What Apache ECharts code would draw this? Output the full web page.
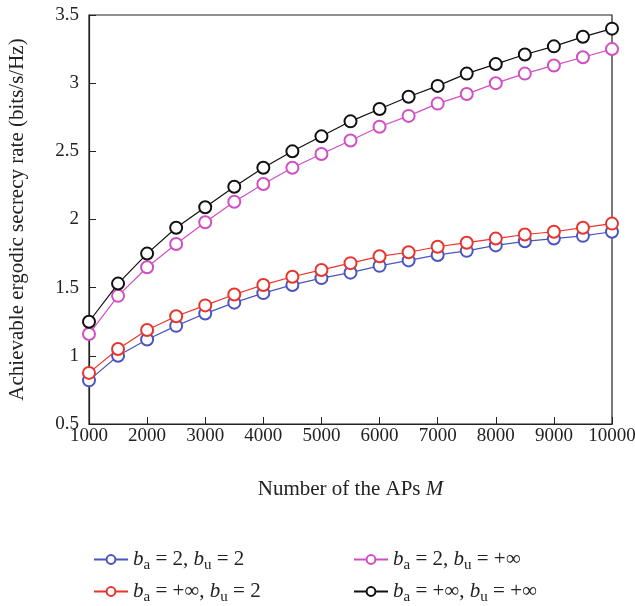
<!DOCTYPE html>
<html><head><meta charset="utf-8">
<script src="https://cdn.jsdelivr.net/npm/echarts@6/dist/echarts.min.js"></script>
<style>html,body{margin:0;padding:0;background:#fff}#c{width:635px;height:606px}</style>
</head><body><div id="c"></div>
<script>
const xValues = [1000,1500,2000,2500,3000,3500,4000,4500,5000,5500,6000,6500,7000,7500,8000,8500,9000,9500,10000];
const s_a2_u2   = [0.82,1.00,1.12,1.22,1.31,1.39,1.46,1.52,1.57,1.61,1.66,1.70,1.74,1.77,1.81,1.84,1.86,1.88,1.91];
const s_aInf_u2 = [0.875,1.05,1.19,1.29,1.37,1.45,1.52,1.58,1.63,1.68,1.73,1.76,1.80,1.83,1.86,1.89,1.91,1.94,1.97];
const s_a2_uInf = [1.16,1.44,1.65,1.82,1.98,2.13,2.26,2.38,2.48,2.58,2.68,2.76,2.85,2.92,3.00,3.07,3.13,3.19,3.25];
const s_aInf_uInf = [1.25,1.53,1.75,1.94,2.09,2.24,2.38,2.50,2.61,2.72,2.81,2.90,2.98,3.07,3.14,3.21,3.27,3.34,3.40];
const names = ['A','B','C','D'];
const labels = {
  A: '{i|b}{s|a} = 2, {i|b}{s|u} = 2',
  B: '{i|b}{s|a} = +∞, {i|b}{s|u} = 2',
  C: '{i|b}{s|a} = 2, {i|b}{s|u} = +∞',
  D: '{i|b}{s|a} = +∞, {i|b}{s|u} = +∞'
};
const colors = ['#4a55c0','#e8342c','#d04fc4','#111111'];
const seriesData = [s_a2_u2, s_aInf_u2, s_a2_uInf, s_aInf_uInf];
const font = 'Liberation Serif';
const rich = {
  i: {fontFamily: font, fontStyle: 'italic', fontSize: 21, color: '#222'},
  s: {fontFamily: font, fontSize: 15, color: '#222', padding: [12,0,0,0]},
};
const legendPos = {A: [88, 544], B: [88, 576], C: [348, 544], D: [348, 576]};
const chart = echarts.init(document.getElementById('c'), null, {renderer: 'canvas'});
function mkLegend(n) {
  return {
    data: [n], left: legendPos[n][0], top: legendPos[n][1],
    itemWidth: 34, itemHeight: 11, itemGap: 10,
    formatter: v => labels[v],
    textStyle: {fontFamily: font, fontSize: 21, color: '#222', rich: rich}
  };
}
chart.setOption({
  animation: false,
  backgroundColor: '#fff',
  grid: {left: 89, right: 23, top: 15, bottom: 182, show: true, borderColor: '#222', borderWidth: 1.2, backgroundColor: 'transparent', outerBoundsMode: 'none', containLabel: false},
  legend: names.map(mkLegend),
  xAxis: {
    type: 'value', min: 1000, max: 10000, interval: 1000,
    name: '{t|Number of the APs }{m|M}', nameLocation: 'middle', nameGap: 55,
    nameTextStyle: {rich: {t: {fontFamily: font, fontSize: 21, color: '#222'}, m: {fontFamily: font, fontSize: 21, fontStyle: 'italic', color: '#222'}}},
    axisLine: {lineStyle: {color: '#222', width: 1.2}},
    axisTick: {inside: true, length: 7, lineStyle: {color: '#222'}},
    axisLabel: {fontFamily: font, fontSize: 19, color: '#222', margin: 3, formatter: v => String(v)},
    splitLine: {show: false}
  },
  yAxis: {
    type: 'value', min: 0.5, max: 3.5, interval: 0.5,
    name: 'Achievable ergodic secrecy rate (bits/s/Hz)', nameLocation: 'middle', nameGap: 61,
    nameTextStyle: {fontFamily: font, fontSize: 21, color: '#222'},
    axisLine: {lineStyle: {color: '#222', width: 1.2}},
    axisTick: {inside: true, length: 7, lineStyle: {color: '#222'}},
    axisLabel: {fontFamily: font, fontSize: 19, color: '#222', margin: 10, formatter: v => String(v)},
    splitLine: {show: false}
  },
  series: names.map((n, k) => ({
    name: n, type: 'line',
    data: xValues.map((x, j) => [x, seriesData[k][j]]),
    color: colors[k],
    symbol: 'emptyCircle', symbolSize: 12,
    lineStyle: {width: 1.2, color: colors[k]},
    itemStyle: {color: colors[k], borderWidth: 1.2, borderColor: colors[k]},
    z: 2 + k
  }))
});
</script></body></html>
